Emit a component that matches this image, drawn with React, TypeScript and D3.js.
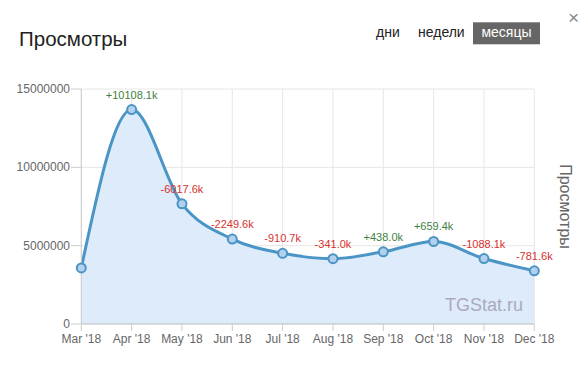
import React from "react";
import * as d3 from "d3";

const months = ["Mar '18", "Apr '18", "May '18", "Jun '18", "Jul '18", "Aug '18", "Sep '18", "Oct '18", "Nov '18", "Dec '18"];
const views = [3580000, 13688100, 7670500, 5420900, 4510200, 4169200, 4607200, 5266600, 4178500, 3396900];
const changes = ["", "+10108.1k", "-6017.6k", "-2249.6k", "-910.7k", "-341.0k", "+438.0k", "+659.4k", "-1088.1k", "-781.6k"];
const yTicks = [0, 5000000, 10000000, 15000000];
const periods = ["дни", "недели", "месяцы"];

const FONT = "'Liberation Sans', Arial, Helvetica, sans-serif";

export default function App() {
  const W = 588, H = 365;
  const x = d3.scalePoint<string>().domain(months).range([81.3, 534.3]);
  const y = d3.scaleLinear().domain([0, 15000000]).range([324, 89]);
  const pts: [number, number][] = views.map((v, i) => [x(months[i]) as number, y(v)]);
  const line = d3.line().curve(d3.curveMonotoneX)(pts) || "";
  const area = d3.area().x(d => d[0]).y0(y(0)).y1(d => d[1]).curve(d3.curveMonotoneX)(pts) || "";
  const x0 = x(months[0]) as number;
  const x1 = x(months[months.length - 1]) as number;

  return (
    <div style={{ position: "absolute", left: 0, top: 0 }}>
      <svg width={W} height={H} style={{ display: "block", fontFamily: FONT }}>
        <rect width={W} height={H} fill="#fff" />
        <text x={19} y={45.5} fontSize={20.5} fill="#222">Просмотры</text>
        <text x={376} y={37} fontSize={14} fill="#222">{periods[0]}</text>
        <text x={418} y={37} fontSize={14} fill="#222">{periods[1]}</text>
        <rect x={473} y={22.3} width={67} height={22} fill="#666" />
        <text x={506.5} y={37} fontSize={14} fill="#fff" textAnchor="middle">{periods[2]}</text>
        <text x={573.5} y={23.5} fontSize={19} fill="#888" textAnchor="middle">×</text>

        {/* grid */}
        {yTicks.filter(t => t > 0).map(t => (
          <line key={"h" + t} x1={x0} x2={x1} y1={y(t)} y2={y(t)} stroke="#e6e6e6" />
        ))}
        {months.map(m => (
          <line key={"v" + m} x1={x(m)} x2={x(m)} y1={y(15000000)} y2={y(0)} stroke="#e6e6e6" />
        ))}

        <path d={area} fill="#deebfa" />
        <path d={line} fill="none" stroke="#4a95c6" strokeWidth={3} />

        {/* axes */}
        <line x1={x0} x2={x0} y1={y(15000000)} y2={y(0)} stroke="#ccc" />
        <line x1={x0} x2={x1} y1={y(0)} y2={y(0)} stroke="#bbb" />
        {yTicks.map(t => (
          <g key={"yt" + t}>
            <line x1={71} x2={x0} y1={y(t)} y2={y(t)} stroke="#ccc" />
            <text x={70} y={y(t) + 4} fontSize={12} fill="#666" textAnchor="end">{t}</text>
          </g>
        ))}
        {months.map(m => (
          <g key={"xt" + m}>
            <line x1={x(m)} x2={x(m)} y1={y(0)} y2={y(0) + 7} stroke="#ccc" />
            <text x={x(m)} y={343} fontSize={12} fill="#666" textAnchor="middle">{m}</text>
          </g>
        ))}

        <text x={523} y={310.5} fontSize={18} fill="#aab" textAnchor="end">TGStat.ru</text>

        {pts.map((p, i) => (
          <circle key={"c" + i} cx={p[0]} cy={p[1]} r={4.5} fill="#b3d1ec" stroke="#4a95c6" strokeWidth={2} />
        ))}
        {pts.map((p, i) => changes[i] ? (
          <text key={"l" + i} x={p[0]} y={p[1] - 11} fontSize={11} textAnchor="middle"
            fill={changes[i].startsWith("+") ? "#3f7f3f" : "#d7312c"}>{changes[i]}</text>
        ) : null)}

        <text transform="translate(559.5,206.5) rotate(90)" fontSize={16} fill="#666" textAnchor="middle">Просмотры</text>
      </svg>
    </div>
  );
}
